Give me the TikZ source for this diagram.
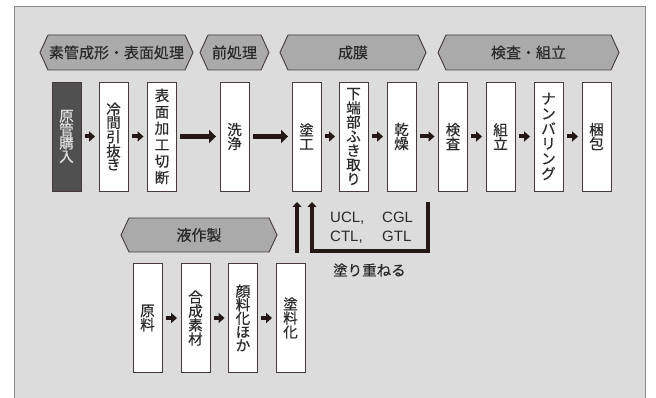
\documentclass[tikz,border=0pt]{standalone}
\usepackage{fontspec}
\setmainfont{Noto Sans CJK JP}[FakeBold=0.4]
\newfontfamily\latinsans{Liberation Sans}
\usetikzlibrary{arrows.meta}
\definecolor{panelbg}{HTML}{DCDCDC}
\definecolor{panelline}{HTML}{8A8A8A}
\definecolor{bannerbg}{HTML}{AAAAAA}
\definecolor{ink}{HTML}{231815}
\definecolor{txt}{HTML}{2A2A2A}
\definecolor{darkbox}{HTML}{505050}
\tikzset{
  stepbox/.style={draw=ink!85, line width=0.9pt, fill=white, minimum width=29pt, minimum height=109pt,
    inner sep=0pt, align=center, text=txt, font=\fontsize{14.5}{14}\selectfont},
  darkstep/.style={stepbox, fill=darkbox, text=white!88!black},
  banner/.style={draw=ink!85, line width=0.9pt, fill=bannerbg},
  bannertext/.style={text=txt, font=\fontsize{15}{16}\selectfont, inner sep=0pt},
  arr/.style={draw=ink, line width=4pt, -{Triangle[length=6pt,width=10pt]}, shorten <=3.5pt, shorten >=3.5pt},
  longarr/.style={arr, line width=5.5pt, -{Triangle[length=7pt,width=13pt]}},
  uparr/.style={draw=ink, line width=3.6pt, -{Triangle[length=5pt,width=9pt]}},
}
\begin{document}
\begin{tikzpicture}[x=1pt,y=-1pt]
\useasboundingbox (0,0) rectangle (656,398);
\clip (0,0) rectangle (656,398);
\fill[white] (0,0) rectangle (656,398);
\draw[panelline, fill=panelbg, line width=0.9pt] (14,6) rectangle (645,420);

% banners
\draw[banner] (40,52.5) -- (48,35) -- (185,35) -- (193,52.5) -- (185,70) -- (48,70) -- cycle;
\node[bannertext] (t1) at (116.5,52.5) {素管成形・表面処理};
\draw[banner] (200,52.5) -- (208,35) -- (261,35) -- (269,52.5) -- (261,70) -- (208,70) -- cycle;
\node[bannertext] (t2) at (234.5,52.5) {前処理};
\draw[banner] (280,52.5) -- (288,35) -- (418,35) -- (426,52.5) -- (418,70) -- (288,70) -- cycle;
\node[bannertext] (t3) at (353,52.5) {成膜};
\draw[banner] (438,52.5) -- (446,35) -- (611,35) -- (619,52.5) -- (611,70) -- (446,70) -- cycle;
\node[bannertext] (t4) at (528.5,52.5) {検査・組立};
\draw[banner] (121,235) -- (129,218) -- (269,218) -- (277,235) -- (269,252) -- (129,252) -- cycle;
\node[bannertext] (t5) at (199,235) {液作製};

% main row
\node[darkstep, font=\fontsize{14.5}{13.5}\selectfont] (b1) at (66.5,136.5) {原\\管\\購\\入};
\node[stepbox, font=\fontsize{14.5}{13.2}\selectfont] (b2) at (113.5,136.5) {冷\\間\\引\\抜\\き};
\node[stepbox, font=\fontsize{14.5}{16.4}\selectfont] (b3) at (162,136.5) {表\\面\\加\\工\\切\\断};
\node[stepbox] (b4) at (234.5,136.5) {洗\\浄};
\node[stepbox] (b5) at (306.5,136.5) {塗\\工};
\node[stepbox, font=\fontsize{14.5}{14.2}\selectfont] (b6) at (353.5,136.5) {下\\端\\部\\ふ\\き\\取\\り};
\node[stepbox] (b7) at (401.5,136.5) {乾\\燥};
\node[stepbox] (b8) at (453,136.5) {検\\査};
\node[stepbox] (b9) at (500.5,136.5) {組\\立};
\node[stepbox, font=\fontsize{14.5}{15}\selectfont] (b10) at (548.5,136.5) {ナ\\ン\\バ\\リ\\ン\\グ};
\node[stepbox] (b11) at (596.5,136.5) {梱\\包};

\foreach \a/\b in {b1/b2,b2/b3,b5/b6,b6/b7,b7/b8,b8/b9,b9/b10,b10/b11}
  \draw[arr] (\a.east) -- (\b.west);
\foreach \a/\b in {b3/b4,b4/b5}
  \draw[longarr] (\a.east) -- (\b.west);

% bottom row
\node[stepbox] (c1) at (147.5,318) {原\\料};
\node[stepbox] (c2) at (195.5,318) {合\\成\\素\\材};
\node[stepbox, font=\fontsize{14.5}{13.5}\selectfont] (c3) at (243,318) {顔\\料\\化\\ほ\\か};
\node[stepbox] (c4) at (290.5,318) {塗\\料\\化};
\foreach \a/\b in {c1/c2,c2/c3,c3/c4}
  \draw[arr] (\a.east) -- (\b.west);

% up arrows and recoat loop
\coordinate (ua) at (297,253);
\coordinate (ub) at (297,202);
\draw[uparr] (ua) -- (ub);
\coordinate (ra) at (428,202);
\coordinate (rb) at (428,251);
\coordinate (rc) at (312,251);
\coordinate (rd) at (312,202);
\draw[uparr] (ra) -- (rb) -- (rc) -- (rd);

\node[anchor=west, inner sep=0pt, align=left, text=txt, font=\latinsans\fontsize{15}{18.5}\selectfont] (lbl) at (330,227.5)
  {\makebox[52pt][l]{UCL,}CGL\\\makebox[52pt][l]{CTL,}GTL};
\node[anchor=west, inner sep=0pt, text=txt, font=\fontsize{14.5}{16}\selectfont] (recoat) at (333,270) {塗り重ねる};
\end{tikzpicture}
\end{document}
